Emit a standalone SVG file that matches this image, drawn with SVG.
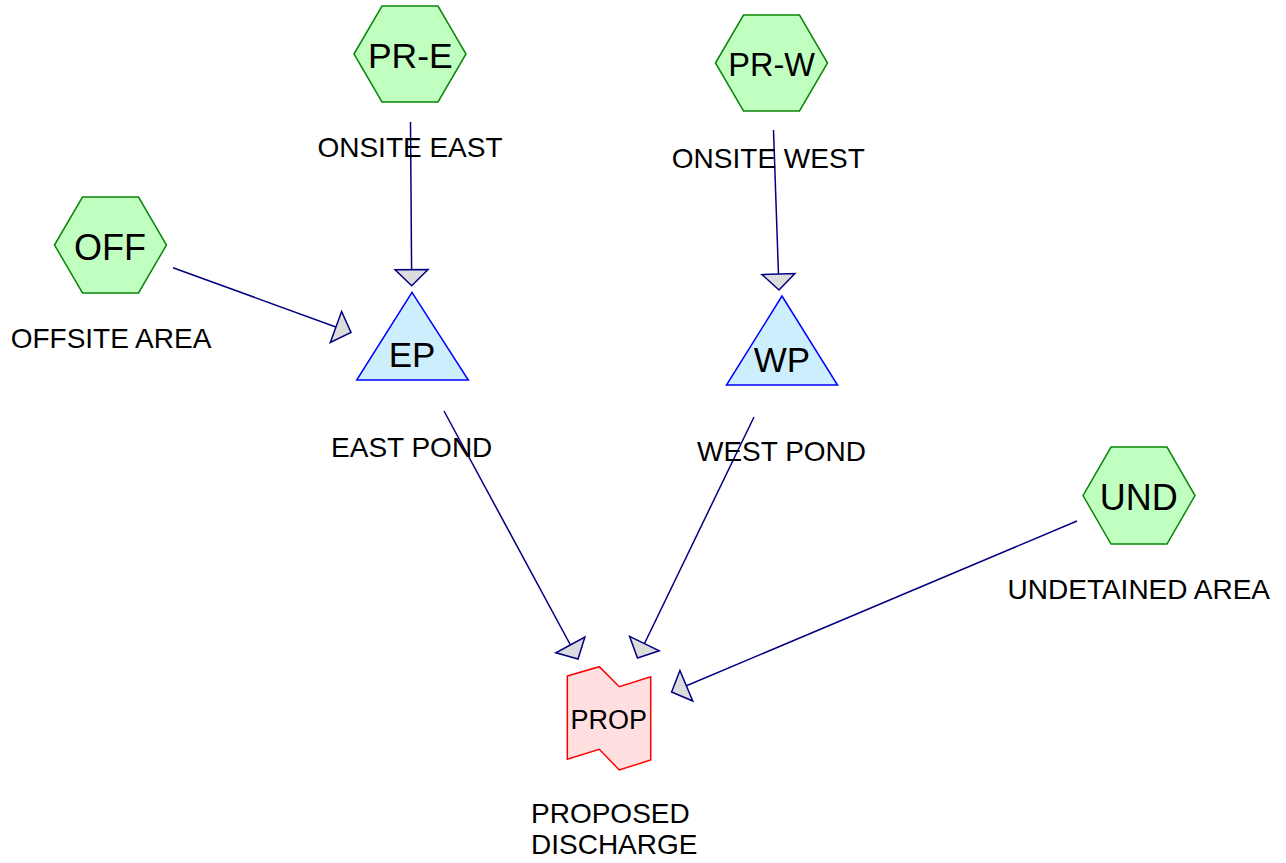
<svg xmlns="http://www.w3.org/2000/svg" width="1286" height="863" viewBox="0 0 1286 863">
<style>
.hex{fill:#c0ffc0;stroke:#0a870a;stroke-width:1.5}
.tri{fill:#cdeefd;stroke:#0000ff;stroke-width:1.5}
.prop{fill:#ffdfdf;stroke:#ff0000;stroke-width:1.5}
.edge{fill:none;stroke:#000080;stroke-width:1.5}
.nt{font-family:"Liberation Sans",Arial,sans-serif;fill:#000;text-anchor:middle}
.lb{font-family:"Liberation Sans",Arial,sans-serif;fill:#000;font-size:28px;text-anchor:middle}
</style>
<defs>
<marker id="arr" viewBox="-2 -19 20 38" markerWidth="20" markerHeight="38" refX="16" refY="0" markerUnits="userSpaceOnUse" orient="auto">
<path d="M0,-16.5 L16,0 L0,16.5 Z" fill="#dcdcdc" stroke="#000080" stroke-width="1.5"/>
</marker>
</defs>
<rect width="1286" height="863" fill="#fff"/>
<g id="connectors">
<line class="edge" x1="410.5" y1="122" x2="411.7" y2="285.7" marker-end="url(#arr)"/>
<line class="edge" x1="773.5" y1="130" x2="779" y2="290" marker-end="url(#arr)"/>
<line class="edge" x1="173" y1="267.7" x2="351" y2="332.5" marker-end="url(#arr)"/>
<line class="edge" x1="444" y1="411" x2="578" y2="659" marker-end="url(#arr)"/>
<line class="edge" x1="754" y1="417" x2="637.5" y2="658" marker-end="url(#arr)"/>
<line class="edge" x1="1077" y1="521" x2="671.6" y2="692" marker-end="url(#arr)"/>
</g>
<g id="PR-E">
<polygon class="hex" points="354,54 382,6 438,6 466,54 438,102 382,102"/>
<text class="nt" x="410.3" y="68.3" font-size="35.5">PR-E</text>
<text class="lb" x="410" y="156.7">ONSITE EAST</text>
</g>
<g id="PR-W">
<polygon class="hex" points="715.5,63 743.5,15 799.5,15 827.5,63 799.5,111 743.5,111"/>
<text class="nt" x="771.7" y="76" font-size="32.5">PR-W</text>
<text class="lb" x="768.3" y="168.3">ONSITE WEST</text>
</g>
<g id="OFF">
<polygon class="hex" points="54.5,245 82.5,197 138.5,197 166.5,245 138.5,293 82.5,293"/>
<text class="nt" x="110" y="260" font-size="36">OFF</text>
<text class="lb" x="111" y="347.7">OFFSITE AREA</text>
</g>
<g id="UND">
<polygon class="hex" points="1083,495.5 1111,447 1167,447 1195,495.5 1167,544 1111,544"/>
<text class="nt" x="1138.7" y="510" font-size="36">UND</text>
<text class="lb" x="1138.8" y="599.3">UNDETAINED AREA</text>
</g>
<g id="EP">
<polygon class="tri" points="412,292.3 356.7,380 468.3,380"/>
<text class="nt" x="412" y="367" font-size="35">EP</text>
<text class="lb" x="411.7" y="456.7">EAST POND</text>
</g>
<g id="WP">
<polygon class="tri" points="782,296 726.5,385 837.5,385"/>
<text class="nt" x="782" y="372" font-size="35">WP</text>
<text class="lb" x="781.5" y="461">WEST POND</text>
</g>
<g id="PROP">
<polygon class="prop" points="567.3,676 599.3,666.7 619.3,686.7 650.7,676.7 650.7,760 619.3,770 599.3,749.3 567.3,759.3"/>
<text class="nt" x="608.7" y="729.3" font-size="27">PROP</text>
<text class="lb" x="531" y="822.7" style="text-anchor:start">PROPOSED</text>
<text class="lb" x="531" y="854" style="text-anchor:start">DISCHARGE</text>
</g>
</svg>
